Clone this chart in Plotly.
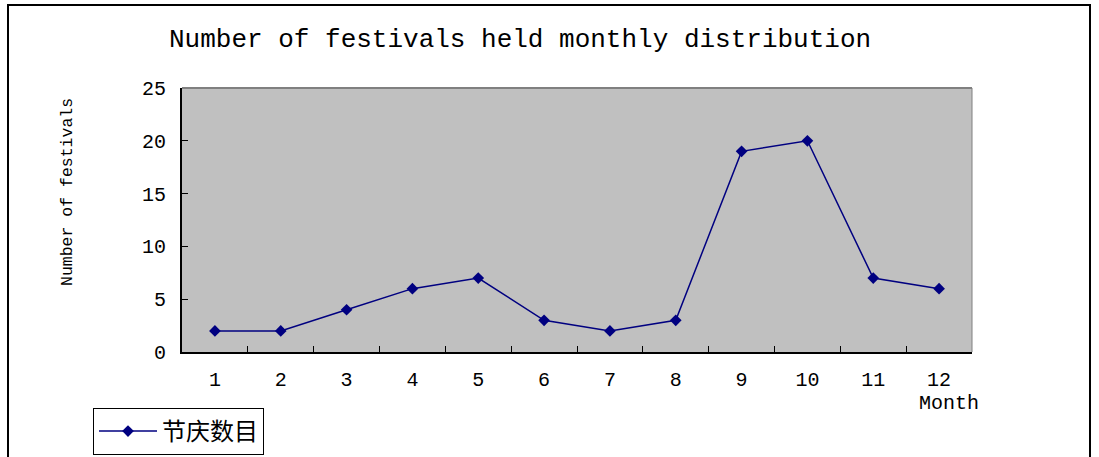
import plotly.graph_objects as go

months = list(range(1, 13))
month_labels = [str(m) for m in months]
festivals = [2, 2, 4, 6, 7, 3, 2, 3, 19, 20, 7, 6]
series_name = "节庆数目"

W, H = 1099, 457
L, R, T, B = 182, 972, 88, 352
pw, ph = R - L, B - T

def px(x):
    return (x - L) / pw

def py(y):
    return (B - y) / ph

font_mono = "Liberation Mono, Courier New, monospace"

fig = go.Figure()
fig.add_trace(go.Scatter(
    x=months, y=festivals, mode="lines+markers", name=series_name,
    line=dict(color="#000080", width=1.5),
    marker=dict(symbol="diamond", size=9, color="#000080"),
))

fig.update_layout(
    width=W, height=H,
    margin=dict(l=L, r=W - R, t=T, b=H - B, autoexpand=False),
    paper_bgcolor="white", plot_bgcolor="#C0C0C0",
    font=dict(family=font_mono, color="black"),
    showlegend=True,
    legend=dict(
        xref="container", yref="container",
        x=93 / W, y=1 - 408 / H, xanchor="left", yanchor="top",
        bordercolor="black", borderwidth=1, bgcolor="white",
        font=dict(family="Noto Sans CJK SC", size=24, color="black"),
        itemwidth=58, tracegroupgap=0,
    ),
    xaxis=dict(
        range=[0.5, 12.5], tickvals=months, ticktext=month_labels,
        showgrid=False, zeroline=False, ticks="", showline=True,
        linecolor="black", linewidth=2, mirror=False,
        tickfont=dict(size=20, family=font_mono), ticklabelstandoff=8,
        minor=dict(tickvals=[m + 0.5 for m in months[:-1]], ticks="inside",
                   ticklen=6, tickcolor="black", showgrid=False),
    ),
    yaxis=dict(
        range=[0, 25], tickvals=[0, 5, 10, 15, 20, 25],
        showgrid=False, zeroline=False, ticks="inside", ticklen=6,
        tickcolor="black", showline=True, linecolor="black", linewidth=2,
        tickfont=dict(size=20, family=font_mono), ticklabelstandoff=10,
    ),
    annotations=[
        dict(text="Number of festivals held monthly distribution",
             x=px(520), y=py(40), xref="paper", yref="paper",
             xanchor="center", yanchor="middle",
             showarrow=False, font=dict(size=26, family=font_mono)),
        dict(text="Number of festivals", textangle=-90,
             x=px(67), y=py(192), xref="paper", yref="paper",
             xanchor="center", yanchor="middle",
             showarrow=False, font=dict(size=16.5, family=font_mono)),
        dict(text="Month", x=px(949), y=py(403), xref="paper", yref="paper",
             xanchor="center", yanchor="middle",
             showarrow=False, font=dict(size=20, family=font_mono)),
    ],
    shapes=[
        dict(type="rect", xref="paper", yref="paper",
             x0=px(8), x1=px(1090), y0=py(470), y1=py(5),
             line=dict(color="black", width=2), layer="below"),
        dict(type="line", xref="paper", yref="paper",
             x0=0, x1=1, y0=1, y1=1, line=dict(color="#808080", width=2)),
        dict(type="line", xref="paper", yref="paper",
             x0=1, x1=1, y0=0, y1=1, line=dict(color="#808080", width=1)),
    ],
)

fig.write_html("out.html", config={"displayModeBar": False},
               post_script="document.body.style.margin='0px';")
